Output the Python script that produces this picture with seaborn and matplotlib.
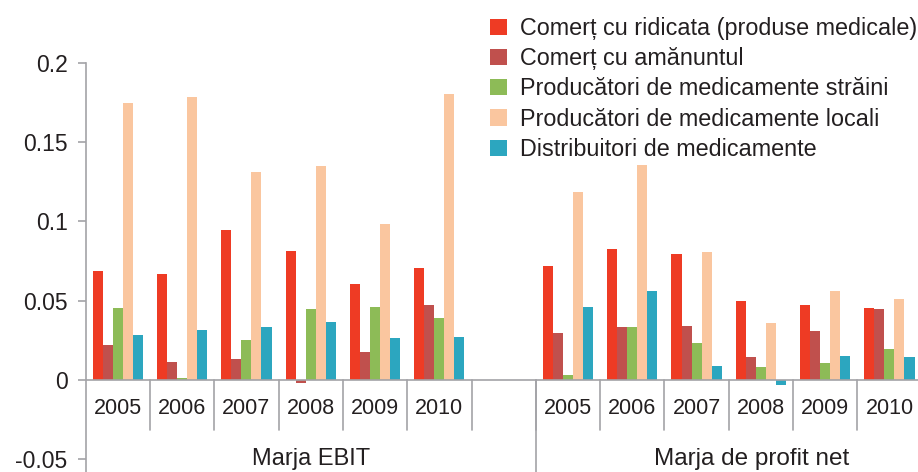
import pandas as pd
import seaborn as sns
import matplotlib
matplotlib.use('Agg')
from matplotlib import pyplot as plt
from matplotlib.ticker import FixedLocator, FuncFormatter

sns.set_style('white')
plt.rcParams['font.family'] = ['Liberation Sans', 'DejaVu Sans']

years = ['2005', '2006', '2007', '2008', '2009', '2010']
series = ['Comerț cu ridicata (produse medicale)',
          'Comerț cu amănuntul',
          'Producători de medicamente străini',
          'Producători de medicamente locali',
          'Distribuitori de medicamente']
colors = ['#EE3B24', '#C0504D', '#8DBB57', '#FAC69F', '#2CA6BF']

# Marja EBIT, one list per series, 2005..2010
ebit_ridicata = [0.069, 0.0666, 0.0943, 0.0815, 0.0607, 0.0704]
ebit_amanunt = [0.0221, 0.0111, 0.013, -0.0021, 0.0174, 0.0475]
ebit_straini = [0.0452, 0.0013, 0.025, 0.0447, 0.046, 0.0393]
ebit_locali = [0.1746, 0.1782, 0.1309, 0.1351, 0.0985, 0.1802]
ebit_distrib = [0.0286, 0.0313, 0.0332, 0.0363, 0.0265, 0.0273]

# Marja de profit net
net_ridicata = [0.0716, 0.0824, 0.0792, 0.0498, 0.0473, 0.0454]
net_amanunt = [0.0296, 0.0334, 0.034, 0.0143, 0.0307, 0.0449]
net_straini = [0.0029, 0.0336, 0.0231, 0.0082, 0.0109, 0.0193]
net_locali = [0.1185, 0.1355, 0.0805, 0.0359, 0.0559, 0.0509]
net_distrib = [0.0462, 0.0563, 0.0086, -0.0032, 0.0151, 0.0147]

groups = ['Marja EBIT', 'Marja de profit net']
ebit = [ebit_ridicata, ebit_amanunt, ebit_straini, ebit_locali, ebit_distrib]
net = [net_ridicata, net_amanunt, net_straini, net_locali, net_distrib]

rows = []
for gname, block in zip(['EBIT', 'NET'], [ebit, net]):
    for s, vals in zip(series, block):
        for y, v in zip(years, vals):
            rows.append({'cat': gname + ' ' + y, 'serie': s, 'val': v})
df = pd.DataFrame(rows)

order = ['EBIT ' + y for y in years] + ['gap'] + ['NET ' + y for y in years]

fig = plt.figure(figsize=(9.18, 4.72), dpi=100)
ax = fig.add_axes([85.7 / 918, 0, 1 - 85.7 / 918, 1])
sns.barplot(data=df, x='cat', y='val', hue='serie', order=order,
            hue_order=series, palette=colors, width=0.78, gap=0,
            saturation=1, linewidth=0, ax=ax, legend=True)

xmax = -0.5 + (918 - 85.7) / 64.3
ax.set_xlim(-0.5, xmax)
ax.set_ylim(-0.058, 0.2395)
ax.set_xlabel('')
ax.set_ylabel('')

gray = '#A3A3A7'
txt = '#231F20'
for side in ['top', 'right', 'bottom']:
    ax.spines[side].set_visible(False)
ax.spines['left'].set_color(gray)
ax.spines['left'].set_linewidth(1.2)
ax.spines['left'].set_bounds(-0.058, 0.2)

ax.yaxis.set_major_locator(FixedLocator([-0.05, 0, 0.05, 0.1, 0.15, 0.2]))
ax.yaxis.set_major_formatter(FuncFormatter(lambda v, p: '{:g}'.format(round(v, 2))))
ax.tick_params(axis='y', which='major', left=True, length=6, width=1.2,
               color=gray, pad=7, labelsize=16.5, labelcolor=txt)
ax.set_xticks([])

# baseline and category separators
ax.axhline(0, color=gray, linewidth=1.2, zorder=3)
for i in range(len(order)):
    ax.plot([i + 0.5, i + 0.5], [0, -0.0315], color=gray, lw=1.2)
    if order[i] != 'gap':
        ax.text(i, -0.018, order[i].split(' ')[1], ha='center', va='center',
                fontsize=15.5, color=txt)
ax.plot([6.5, 6.5], [0, -0.058], color=gray, lw=1.2)

ax.text(3.0, -0.0495, groups[0], ha='center', va='center', fontsize=17, color=txt)
ax.text(9.85, -0.0495, groups[1], ha='center', va='center', fontsize=17.5, color=txt)

h, l = ax.get_legend_handles_labels()
ax.get_legend().remove()
fig.legend(h, l, loc='upper left', bbox_to_anchor=(490 / 918, 1 - 17 / 472),
           frameon=False, fontsize=16.8, handlelength=0.72, handleheight=0.7,
           handletextpad=0.55, labelspacing=0.31, borderpad=0, borderaxespad=0,
           labelcolor=txt)

fig.savefig('out.png', dpi=100)
